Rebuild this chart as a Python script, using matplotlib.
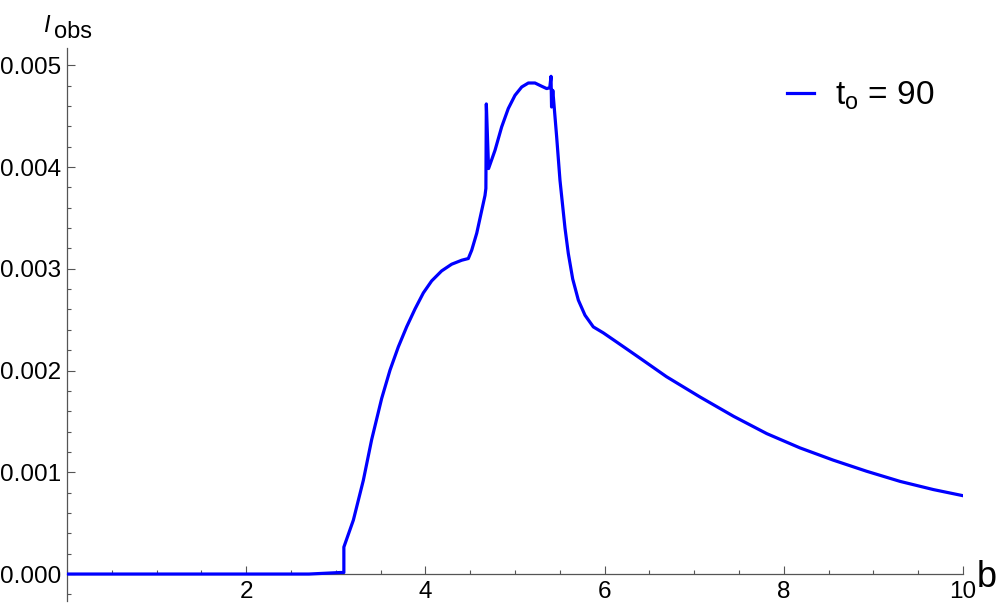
import matplotlib
matplotlib.use("Agg")
import matplotlib.pyplot as plt
from matplotlib.ticker import MultipleLocator, FixedLocator

plt.rcParams['font.family'] = ['Liberation Sans', 'DejaVu Sans']
plt.rcParams['mathtext.fontset'] = 'custom'
plt.rcParams['mathtext.rm'] = 'Liberation Sans'
plt.rcParams['mathtext.it'] = 'Liberation Sans:italic'

# values
b_vals = [0.0, 2.7, 3.05, 3.09, 3.09, 3.196, 3.307, 3.40, 3.512, 3.605,
          3.698, 3.791, 3.884, 3.977, 4.070, 4.181, 4.293, 4.405, 4.479,
          4.517, 4.573, 4.665, 4.675, 4.68, 4.705, 4.777, 4.851, 4.925,
          5.0, 5.075, 5.149, 5.223, 5.298, 5.354, 5.388, 5.402, 5.408,
          5.422, 5.465, 5.502, 5.558, 5.595, 5.644, 5.707, 5.781,
          5.874, 5.986, 6.135, 6.283, 6.414, 6.69, 7.065, 7.44, 7.81,
          8.18, 8.55, 8.925, 9.30, 9.67, 10.0]
i_obs = [0.0, 0.0, 0.000015, 0.000015, 0.000265, 0.00053, 0.00092,
         0.00132, 0.001726, 0.002004, 0.002233, 0.00243, 0.002605,
         0.002763, 0.002881, 0.002979, 0.003045, 0.003084, 0.003101,
         0.003183, 0.00335, 0.00372, 0.00379, 0.00462, 0.003985, 0.004165,
         0.004394, 0.004575, 0.004705, 0.004787, 0.004826, 0.004826,
         0.004794, 0.004771, 0.00478, 0.004892, 0.00459, 0.004754,
         0.004296, 0.00387, 0.00340, 0.00315, 0.00290,
         0.002692, 0.002544, 0.002429, 0.00237, 0.00228, 0.00219,
         0.00211, 0.00194, 0.00174, 0.00155, 0.00138, 0.00124, 0.00112,
         0.00101, 0.00091, 0.00083, 0.00077]

x_major = [2, 4, 6, 8, 10]
y_major = [0.000, 0.001, 0.002, 0.003, 0.004, 0.005]
y_labels = ["0.000", "0.001", "0.002", "0.003", "0.004", "0.005"]
series_label = r"$\mathregular{t_o}$ = 90"

axis_gray = "#555555"

fig = plt.figure(figsize=(9.97, 6.09), dpi=100)
ax = fig.add_axes([67 / 997, 8 / 609, (963 - 67) / 997, (601 - 48) / 609])

ax.plot(b_vals, i_obs, color="#0000ff", lw=2.3, label=series_label,
        zorder=5)

ax.set_xlim(0, 10)
ax.set_ylim(-0.000265, 0.00517)

ax.spines['top'].set_visible(False)
ax.spines['right'].set_visible(False)
ax.spines['bottom'].set_position(('data', 0))
for s in ('left', 'bottom'):
    ax.spines[s].set_color(axis_gray)
    ax.spines[s].set_linewidth(0.9)

ax.xaxis.set_major_locator(FixedLocator(x_major))
ax.xaxis.set_minor_locator(MultipleLocator(0.5))
ax.set_xticklabels([str(v) for v in x_major])
ax.yaxis.set_major_locator(FixedLocator(y_major))
ax.yaxis.set_minor_locator(MultipleLocator(0.0002))
ax.set_yticklabels(y_labels)

ax.tick_params(which='both', direction='in', color=axis_gray, width=0.8,
               labelsize=17.5, labelcolor='black')
ax.tick_params(which='major', length=5.5)
ax.tick_params(which='minor', length=3)
ax.tick_params(axis='x', pad=5)
ax.tick_params(axis='y', pad=4)

# axis labels in Mathematica style
fig.text(43 / 997, 1 - 32 / 609, "I", fontsize=17, style='italic',
         ha='left', va='baseline')
fig.text(54 / 997, 1 - 38 / 609, "obs", fontsize=17, ha='left',
         va='baseline')
fig.text(977 / 997, 1 - 587 / 609, "b", fontsize=26, ha='left',
         va='baseline')

ax.legend(loc='upper left', bbox_to_anchor=(787 / 997, 1 - 80 / 609),
          bbox_transform=fig.transFigure, frameon=False, fontsize=24,
          handlelength=0.81, handletextpad=0.63, borderpad=0,
          borderaxespad=0)

fig.savefig("out.png", dpi=100)
